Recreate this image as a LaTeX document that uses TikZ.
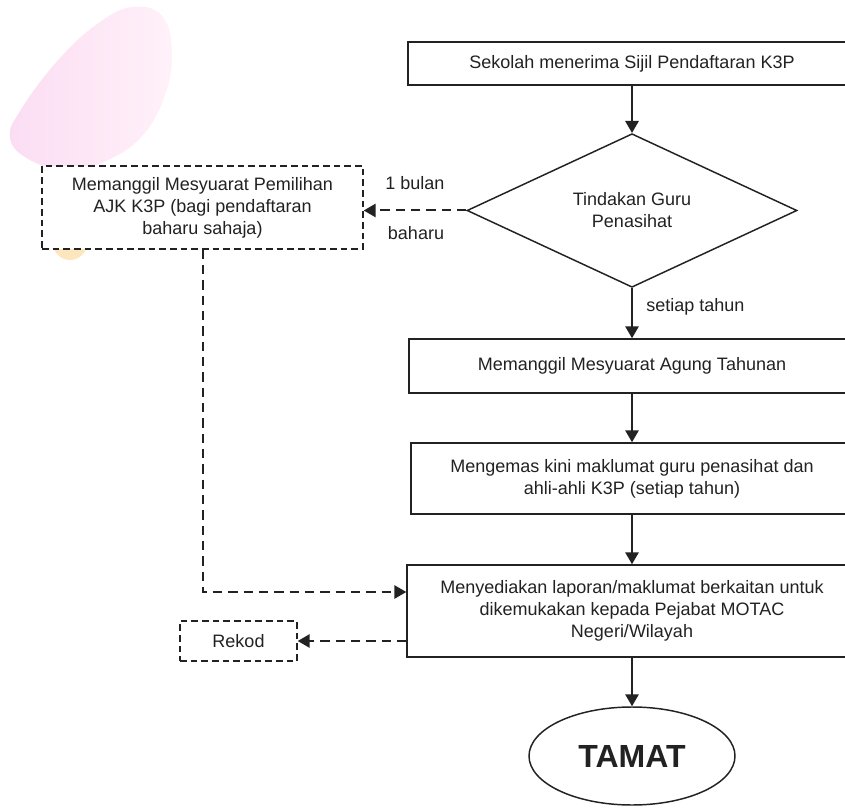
\documentclass[tikz,border=0pt]{standalone}
\usepackage{fontspec}
\setmainfont{Liberation Sans}
\usetikzlibrary{shapes.geometric,arrows.meta}
\definecolor{ink}{HTML}{222222}
\definecolor{blobL}{HTML}{FBDDF3}
\definecolor{blobR}{HTML}{FFF1F9}
\definecolor{orangeblob}{HTML}{FDE6BE}
\tikzset{
  every node/.style={text=ink, font=\fontsize{13.5}{16.5}\selectfont},
  procbox/.style={draw=ink, line width=1.1pt, fill=white, rectangle, align=center, inner sep=0pt},
  dashbox/.style={draw=ink, line width=1.1pt, fill=white, rectangle, align=center, inner sep=0pt, dash pattern=on 5pt off 3pt},
  decision/.style={draw=ink, line width=1.1pt, fill=white, diamond, align=center, inner sep=0pt},
  terminal/.style={draw=ink, line width=1.1pt, fill=white, ellipse, align=center, inner sep=0pt},
  flow/.style={draw=ink, line width=1.5pt, -{Triangle[length=9pt,width=10pt]}},
  dashflow/.style={draw=ink, line width=1.5pt, dash pattern=on 7pt off 4.5pt, -{Triangle[length=9pt,width=10pt]}},
  lbl/.style={inner sep=0pt}
}
\begin{document}
\begin{tikzpicture}[x=0.75pt,y=-0.75pt]
\useasboundingbox (0,0) rectangle (845,812);
\fill[white] (0,0) rectangle (845,812);
\clip (0,0) rectangle (845,812);
% background decorations
\shade[left color=blobL, right color=blobR] plot[smooth cycle, tension=0.7] coordinates {(133,7) (162,16) (172,52) (165,95) (143,135) (108,160) (68,170) (30,160) (10,138) (22,108) (60,58) (100,22)};
\fill[orangeblob] (70,243) circle (17);
% nodes
\node[procbox, minimum width=336pt, minimum height=32.25pt] (start) at (632,63.5) {Sekolah menerima Sijil Pendaftaran K3P};
\node[decision, minimum width=247.5pt, minimum height=114.75pt] (guru) at (632,210.5) {Tindakan Guru\\Penasihat};
\node[dashbox, minimum width=240.75pt, minimum height=62.25pt] (pilih) at (202.5,207.5) {Memanggil Mesyuarat Pemilihan\\AJK K3P (bagi pendaftaran\\baharu sahaja)};
\node[procbox, minimum width=334.5pt, minimum height=40.5pt] (agung) at (632,366) {Memanggil Mesyuarat Agung Tahunan};
\node[procbox, minimum width=331.5pt, minimum height=53.25pt] (kemas) at (632,478.5) {Mengemas kini maklumat guru penasihat dan\\ahli-ahli K3P (setiap tahun)};
\node[procbox, minimum width=337.5pt, minimum height=69pt] (lapor) at (632,611) {Menyediakan laporan/maklumat berkaitan untuk\\dikemukakan kepada Pejabat MOTAC\\Negeri/Wilayah};
\node[dashbox, minimum width=87.75pt, minimum height=30pt] (rekod) at (238.5,641) {Rekod};
\node[terminal, minimum width=154.5pt, minimum height=73.5pt, font=\fontsize{24}{28}\selectfont\bfseries] (tamat) at (632,756) {TAMAT};
% labels
\node[lbl] (bulan) at (415,183) {1 bulan};
\node[lbl] (baharu) at (416,233) {baharu};
\node[lbl, anchor=west] (tahun) at (646,307) {setiap tahun};
% connectors
\draw[flow] (start) -- (guru.north);
\draw[flow] (guru.south) -- (agung.north);
\draw[flow] (agung) -- (kemas);
\draw[flow] (kemas) -- (lapor);
\draw[flow] (lapor) -- (tamat.north);
\draw[dashflow] (guru.west) -- (pilih.east |- guru.west);
\draw[dashflow] (pilih.south) |- ([yshift=14.25pt]lapor.west);
\draw[dashflow] ([yshift=-22.5pt]lapor.west) -- (rekod.east);
\end{tikzpicture}
\end{document}
